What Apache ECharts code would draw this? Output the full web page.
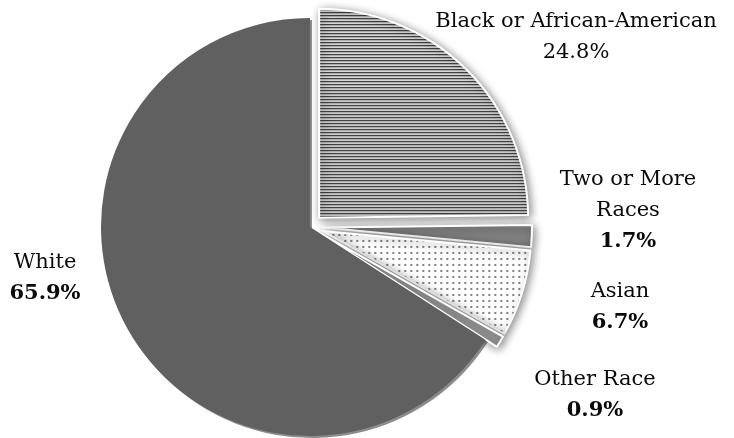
<!DOCTYPE html>
<html>
<head>
<meta charset="utf-8">
<script src="https://cdn.jsdelivr.net/npm/echarts@6/dist/echarts.min.js"></script>
<style>
html,body{margin:0;padding:0;background:#fff;}
#chart{width:734px;height:438px;}
</style>
</head>
<body>
<div id="chart"></div>
<script>
// ---- data ----
var categories = ['Black or African-American', 'Two or More Races', 'Asian', 'Other Race', 'White'];
var labelNames = ['Black or African-American', 'Two or More\nRaces', 'Asian', 'Other Race', 'White'];
var values = [24.8, 1.7, 6.7, 0.9, 65.9];
var boldPercent = [false, true, true, true, true];

// ---- patterns ----
function linePattern() {
  var c = document.createElement('canvas');
  c.width = 6; c.height = 3;
  var g = c.getContext('2d');
  g.fillStyle = '#fff'; g.fillRect(0, 0, 6, 3);
  g.fillStyle = '#2e2e2e'; g.fillRect(0, 0, 6, 1);
  g.fillStyle = '#9c9c9c'; g.fillRect(0, 1, 6, 1);
  return c;
}
function dotPattern() {
  var c = document.createElement('canvas');
  c.width = 6; c.height = 6;
  var g = c.getContext('2d');
  g.fillStyle = '#fff'; g.fillRect(0, 0, 6, 6);
  g.fillStyle = '#5e5e5e'; g.fillRect(2, 2, 1, 2);
  g.fillStyle = '#a0a0a0'; g.fillRect(3, 2, 1, 2);
  return c;
}

var fills = [
  {image: linePattern(), repeat: 'repeat'},
  '#7f7f7f',
  {image: dotPattern(), repeat: 'repeat'},
  '#969696',
  '#606060'
];
var labelPos = [[576, 37], [628, 211], [620, 307], [595, 395], [45, 278]];
var pieCenter = [310, 227];
var pieRadius = 209;

var data = categories.map(function (name, i) {
  var isWhite = i === 4;
  return {
    name: name,
    value: values[i],
    selected: !isWhite,
    itemStyle: {
      color: fills[i],
      borderColor: '#fff',
      borderWidth: isWhite ? 0 : 2,
      shadowBlur: isWhite ? 0 : 8,
      shadowColor: 'rgba(0,0,0,0.45)',
      shadowOffsetX: 2,
      shadowOffsetY: 2
    }
  };
});

var labelData = categories.map(function (name, i) {
  return {name: name, value: values[i]};
});

var chart = echarts.init(document.getElementById('chart'));
chart.setOption({
  animation: false,
  backgroundColor: '#fff',
  series: [{
    type: 'pie',
    center: pieCenter,
    radius: pieRadius,
    startAngle: 90,
    clockwise: true,
    selectedMode: 'multiple',
    selectedOffset: 13,
    data: data,
    label: {show: false},
    labelLine: {show: false},
    emphasis: {disabled: true}
  }, {
    type: 'pie',
    center: pieCenter,
    radius: pieRadius,
    startAngle: 90,
    clockwise: true,
    silent: true,
    selectedMode: false,
    avoidLabelOverlap: false,
    data: labelData,
    itemStyle: {color: 'rgba(0,0,0,0)', borderWidth: 0},
    label: {
      show: true,
      position: 'outside',
      fontFamily: 'DejaVu Serif, serif',
      fontSize: 21,
      color: '#0a0a0a',
      lineHeight: 31,
      align: 'center',
      formatter: function (p) {
        var i = p.dataIndex;
        var pct = values[i].toFixed(1) + '%';
        return labelNames[i] + '\n' + (boldPercent[i] ? '{b|' + pct + '}' : pct);
      },
      rich: {
        b: {fontFamily: 'DejaVu Serif, serif', fontSize: 21, fontWeight: 'bold', color: '#0a0a0a', lineHeight: 31}
      }
    },
    labelLine: {show: false},
    emphasis: {disabled: true},
    labelLayout: function (p) {
      var pos = labelPos[p.dataIndex];
      return {x: pos[0], y: pos[1], align: 'center', verticalAlign: 'middle'};
    }
  }]
});
</script>
</body>
</html>
